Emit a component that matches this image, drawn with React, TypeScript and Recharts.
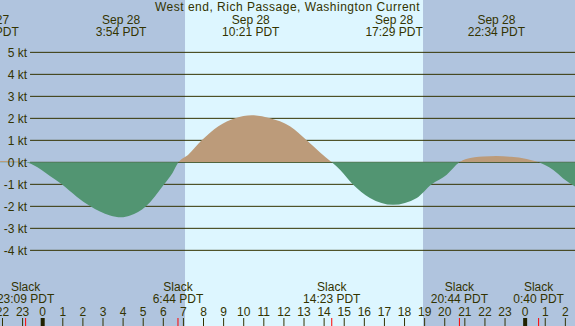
import {
  ComposedChart,
  Area,
  XAxis,
  YAxis,
  ReferenceLine,
  ReferenceArea,
} from "recharts";

// hours from midnight Sep 28 (PDT), current speed in knots (flood +, ebb -)
const hours = [
  -2.12, -1.6, -0.85, -0.47, 0.36, 0.95, 1.69, 2.35, 2.85, 3.35, 3.9, 4.35,
  5.14, 6.04, 6.45, 6.75, 7.24, 7.91, 8.74, 9.57, 10.4, 11.31, 12.3, 13.13,
  13.8, 14.38, 14.79, 15.42, 16.28, 17.43, 18.61, 19.35, 20.1, 20.73, 21.06,
  21.9, 22.57, 23.3, 24.08, 24.67, 25.4, 25.89, 26.48,
];
const knots = [
  0.06, 0.05, 0, -0.12, -0.62, -1.0, -1.56, -1.99, -2.24, -2.42, -2.5, -2.42,
  -2.0, -1.0, -0.5, 0, 0.35, 1.0, 1.64, 2.0, 2.14, 2.0, 1.64, 1.0, 0.45, 0,
  -0.34, -1.0, -1.62, -1.93, -1.62, -1.0, -0.56, 0, 0.15, 0.26, 0.29, 0.25,
  0.15, 0, -0.35, -0.73, -1.1,
];

const peakHours = [-2.62, 3.9, 10.35, 17.48, 22.57];
const peakDates = ["Sep 27", "Sep 28", "Sep 28", "Sep 28", "Sep 28"];
const peakTimes = ["21:23 PDT", "3:54 PDT", "10:21 PDT", "17:29 PDT", "22:34 PDT"];

const slackHours = [-0.85, 6.73, 14.38, 20.73, 24.67];
const slackTimes = ["23:09 PDT", "6:44 PDT", "14:23 PDT", "20:44 PDT", "0:40 PDT"];

const sunrise = 7.08;
const sunset = 18.92;
const midnights = [0, 24];
const levels = [5, 4, 3, 2, 1, 0, -1, -2, -3, -4];
const hourTicks = Array.from({ length: 29 }, (_, i) => i - 2);

const X_MIN = -2.124;
const X_MAX = 26.48;
const Y_MIN = -7.44;
const Y_MAX = 7.38;
const GRID_START = -0.63;

const TEXT = "#333300";
const NIGHT = "#b0c4de";
const DAY = "#ddf6ff";
const FLOOD = "#bc9b7a";
const EBB = "#529572";
const FONT = "'Liberation Sans', Arial, sans-serif";

const data = hours.map((h, i) => ({ h, kt: knots[i] }));
const maxKt = Math.max(...knots);
const minKt = Math.min(...knots);
const splitOffset = maxKt / (maxKt - minKt);

const PeakLabel = ({ viewBox, date, time }: any) => {
  const x = viewBox.x;
  return (
    <g fontFamily={FONT} fontSize={12} fill={TEXT} textAnchor="middle">
      <text x={x} y={24}>{date}</text>
      <text x={x} y={36}>{time}</text>
    </g>
  );
};

const SlackLabel = ({ viewBox, time }: any) => {
  const x = viewBox.x;
  const bottom = viewBox.y + viewBox.height;
  return (
    <g fontFamily={FONT} fontSize={12} fill={TEXT} textAnchor="middle">
      <text x={x} y={bottom - 35}>Slack</text>
      <text x={x} y={bottom - 23}>{time}</text>
      <line x1={x} x2={x} y1={bottom - 8} y2={bottom} stroke="#ff0000" strokeWidth={1} />
    </g>
  );
};

const MidnightTick = ({ viewBox }: any) => {
  const bottom = viewBox.y + viewBox.height;
  return <rect x={viewBox.x - 2} y={bottom - 8} width={4} height={8} fill="#222200" />;
};

export default function App() {
  return (
    <div
      style={{
        position: "absolute",
        left: 0,
        top: 0,
        width: 575,
        height: 326,
        fontFamily: FONT,
      }}
    >
      <ComposedChart
        width={575}
        height={326}
        data={data}
        margin={{ top: 0, right: 0, bottom: 0, left: 0 }}
      >
        <defs>
          <linearGradient id="split" x1="0" y1="0" x2="0" y2="1">
            <stop offset={splitOffset} stopColor={FLOOD} />
            <stop offset={splitOffset} stopColor={EBB} />
          </linearGradient>
        </defs>
        <XAxis
          type="number"
          dataKey="h"
          domain={[X_MIN, X_MAX]}
          allowDataOverflow
          ticks={hourTicks}
          interval={0}
          mirror
          axisLine={false}
          tickLine={{ stroke: TEXT }}
          tickSize={8}
          tickMargin={2}
          tick={{ fill: TEXT, fontSize: 12, fontFamily: FONT }}
          tickFormatter={(h: number) => String(((h % 24) + 24) % 24)}
        />
        <YAxis type="number" domain={[Y_MIN, Y_MAX]} allowDataOverflow hide />
        <ReferenceArea
          x1={X_MIN}
          x2={X_MAX}
          fill={NIGHT}
          fillOpacity={1}
          stroke="none"
          zIndex={-300}
        />
        <ReferenceArea
          x1={sunrise}
          x2={sunset}
          fill={DAY}
          fillOpacity={1}
          stroke="none"
          zIndex={-250}
        />
        {levels.map((v) => (
          <ReferenceLine
            key={`lvl${v}`}
            segment={[
              { x: GRID_START, y: v },
              { x: X_MAX, y: v },
            ]}
            stroke={TEXT}
            strokeWidth={1}
            zIndex={-200}
            label={{
              value: `${v} kt`,
              position: "left",
              offset: 3,
              fill: TEXT,
              fontSize: 12,
              fontFamily: FONT,
            }}
          />
        ))}
        <Area
          type="monotone"
          dataKey="kt"
          baseValue={0}
          stroke="none"
          fill="url(#split)"
          fillOpacity={1}
          isAnimationActive={false}
          dot={false}
          activeDot={false}
        />
        {midnights.map((h) => (
          <ReferenceLine
            key={`mid${h}`}
            x={h}
            stroke="none"
            zIndex={600}
            label={(p: any) => <MidnightTick {...p} />}
          />
        ))}
        {slackHours.map((h, i) => (
          <ReferenceLine
            key={`slack${i}`}
            x={h}
            stroke="none"
            ifOverflow="visible"
            zIndex={600}
            label={(p: any) => <SlackLabel {...p} time={slackTimes[i]} />}
          />
        ))}
        {peakHours.map((h, i) => (
          <ReferenceLine
            key={`peak${i}`}
            x={h}
            stroke="none"
            ifOverflow="visible"
            zIndex={600}
            label={(p: any) => (
              <PeakLabel {...p} date={peakDates[i]} time={peakTimes[i]} />
            )}
          />
        ))}
      </ComposedChart>
      <div
        style={{
          position: "absolute",
          left: 0,
          top: 0,
          width: 575,
          textAlign: "center",
          fontSize: 12,
          lineHeight: "14px",
          letterSpacing: "0.5px",
          color: TEXT,
        }}
      >
        West end, Rich Passage, Washington Current
      </div>
    </div>
  );
}
